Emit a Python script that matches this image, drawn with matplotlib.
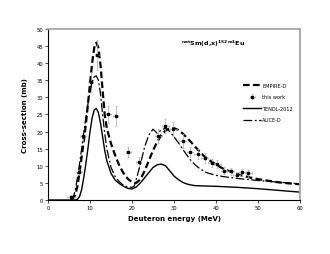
import matplotlib
matplotlib.use("Agg")
import matplotlib.pyplot as plt

# EMPIRE-D
e_emp = [5.5, 6, 6.5, 7, 7.5, 8, 8.5, 9, 9.5, 10, 10.5, 11, 11.5, 12, 12.5, 13, 13.5, 14, 15, 16, 17, 18, 19, 20, 21, 22, 23, 24, 25, 26, 27, 28, 29, 30, 31, 32, 33, 34, 35, 36, 37, 38, 40, 42, 44, 46, 48, 50, 52, 54, 56, 58, 60]
s_emp = [0, 0.5, 1.5, 4, 8, 12.5, 17, 22, 28, 34, 40, 44.5, 46, 44.5, 39.5, 32, 25, 21, 16.5, 13, 10, 7.8, 6.2, 5.2, 5, 6, 8.5, 11.5, 14.5, 17, 19, 20.3, 21, 21, 20.5, 19.5, 18.3, 17, 15.6, 14.3, 13, 12, 10.3, 9, 8, 7.2, 6.6, 6.1, 5.7, 5.3, 5, 4.8, 4.6]

# TENDL-2012
e_ten = [0, 6.5, 7, 7.5, 8, 8.5, 9, 9.5, 10, 10.5, 11, 11.5, 12, 12.5, 13, 13.5, 14, 15, 16, 17, 18, 19, 20, 21, 22, 23, 24, 25, 26, 27, 28, 29, 30, 31, 32, 33, 34, 35, 37, 40, 45, 50, 55, 60]
s_ten = [0, 0, 0.2, 1, 3, 6.5, 10.5, 15, 20, 24, 26.3, 26.8, 25.5, 22.5, 18.5, 14.5, 11.5, 7.8, 5.8, 4.8, 4, 3.4, 3.2, 3.8, 5, 6.5, 8, 9.5, 10.3, 10.5, 10, 8.5, 7, 6, 5.2, 4.7, 4.4, 4.2, 4.1, 4, 3.7, 3.3, 2.8, 2.3]

# ALICE-D
e_ali = [5.5, 6, 6.5, 7, 7.5, 8, 8.5, 9, 9.5, 10, 10.5, 11, 11.5, 12, 12.5, 13, 13.5, 14, 15, 16, 17, 18, 19, 20, 20.5, 21, 22, 23, 24, 25, 26, 27, 28, 29, 30, 31, 32, 33, 34, 35, 36, 37, 38, 40, 42, 45, 50, 55, 60]
s_ali = [0, 0.8, 3, 6.5, 10.5, 15, 19.5, 24, 28, 31.5, 34.5, 36, 36.3, 35, 31, 25, 19.5, 15, 9.5, 6.8, 5.3, 4.3, 3.8, 3.7, 4, 6, 10.5, 15.5, 19, 20.7, 19.5, 20.5, 21, 20, 18.5, 16.8, 15, 13.2, 11.6, 10.3, 9.3, 8.5, 7.9, 7.2, 6.8, 6.3, 5.7, 5.2, 4.7]

# this work
e_exp = [5.5, 7.4, 8.3, 10.2, 11.7, 14.3, 16.1, 19.1, 21.6, 26.3, 27.9, 29.8, 32.1, 33.8, 35.6, 37.3, 39.0, 40.3, 41.9, 43.5, 44.9, 46.3, 47.7]
s_exp = [1.0, 8.2, 18.7, 34.5, 42.4, 25.0, 24.6, 14.1, 11.0, 18.8, 21.7, 20.8, 17.3, 14.1, 13.5, 12.2, 10.8, 10.5, 8.6, 8.4, 7.3, 8.1, 7.8]
ds_exp = [0.5, 1.0, 1.8, 3.0, 4.5, 2.5, 3.0, 1.5, 1.5, 2.0, 2.0, 2.0, 2.0, 1.5, 1.5, 1.5, 1.2, 1.2, 1.0, 1.0, 1.0, 1.0, 1.0]
de_exp = [0.9, 0.8, 0.7, 0.6, 0.6, 0.6, 0.6, 0.6, 0.6, 0.8, 0.8, 0.8, 0.8, 0.8, 0.8, 0.8, 0.8, 0.8, 0.8, 0.8, 0.8, 0.8, 0.8]

fig = plt.figure(figsize=(3.3, 2.55), dpi=100)
ax = fig.add_axes([0.1455, 0.2118, 0.7636, 0.6706])

h1, = ax.plot(e_emp, s_emp, color="black", lw=1.6, ls=(0, (3, 1.5)), label="EMPIRE-D")
h2 = ax.errorbar(e_exp, s_exp, yerr=ds_exp, xerr=de_exp, fmt="s", ms=1.8, color="black",
                 ecolor="#aaaaaa", elinewidth=0.5, capsize=1, capthick=0.5, label="this work")
h3, = ax.plot(e_ten, s_ten, color="black", lw=1.0, label="TENDL-2012")
h4, = ax.plot(e_ali, s_ali, color="black", lw=0.9, ls=(0, (7, 2, 1.5, 2)), label="ALICE-D")

ax.set_xlim(0, 60)
ax.set_ylim(0, 50)
ax.set_xticks(range(0, 61, 10))
ax.set_yticks(range(0, 51, 5))
ax.tick_params(labelsize=3.8, length=2, width=0.5, pad=1.5)
for s in ["left", "bottom"]:
    ax.spines[s].set_color("black")
    ax.spines[s].set_linewidth(0.8)
for s in ["top", "right"]:
    ax.spines[s].set_color("#a6a6a6")
    ax.spines[s].set_linewidth(1.3)

ax.set_xlabel("Deuteron energy (MeV)", fontsize=5, fontweight="bold", labelpad=4)
ax.set_ylabel("Cross-section (mb)", fontsize=5, fontweight="bold", labelpad=6)
ax.text(0.655, 0.918, r"$^{\mathbf{nat}}$Sm(d,x)$^{\mathbf{152m1}}$Eu", transform=ax.transAxes,
        fontsize=4.6, fontweight="bold", ha="center", va="center")

ax.legend([h1, h2, h3, h4], ["EMPIRE-D", "this work", "TENDL-2012", "ALICE-D"],
          loc="center right", bbox_to_anchor=(0.99, 0.57), frameon=False, fontsize=3.6,
          handlelength=3.5, labelspacing=1.3, handletextpad=0.3)

fig.savefig("out.png", dpi=100)
